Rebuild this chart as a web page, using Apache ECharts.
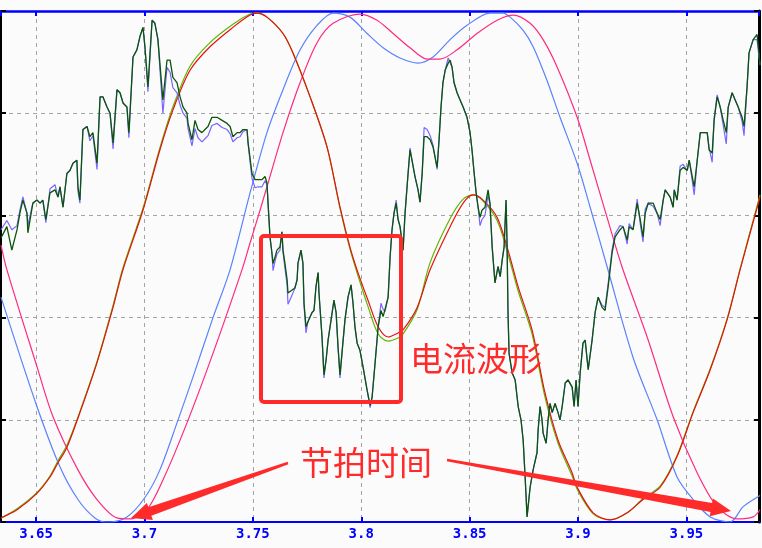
<!DOCTYPE html>
<html>
<head>
<meta charset="utf-8">
<script src="https://cdn.jsdelivr.net/npm/echarts@6/dist/echarts.min.js"></script>
<style>
html,body{margin:0;padding:0;background:#fbfbfb;}
#chart{width:762px;height:548px;}
</style>
</head>
<body>
<div id="chart"></div>
<script>
// ---- axis ----
const xMin = 3.6338, xMax = 3.9835;
const xTickLabels = ['3.65','3.7','3.75','3.8','3.85','3.9','3.95'];

// ---- noisy current pair (purple + dark green) ----
const noisyTime = [3.6338,3.6365,3.6388,3.6412,3.6425,3.6439,3.6458,3.6462,3.6485,3.6504,
3.6518,3.6531,3.6545,3.6564,3.6587,3.6601,3.6610,3.6624,3.6642,3.6656,
3.6670,3.6688,3.6693,3.6702,3.6716,3.6735,3.6748,3.6762,3.6781,3.6795,
3.6808,3.6827,3.6841,3.6855,3.6873,3.6887,3.6901,3.6919,3.6928,3.6947,
3.6965,3.6979,3.6993,3.7002,3.7016,3.7035,3.7048,3.7062,3.7085,3.7104,
3.7118,3.7131,3.7150,3.7164,3.7178,3.7196,3.7201,3.7219,3.7233,3.7247,
3.7265,3.7279,3.7293,3.7311,3.7335,3.7358,3.7381,3.7395,3.7408,3.7427,
3.7441,3.7454,3.7473,3.7478,3.7496,3.7510,3.7524,3.7542,3.7556,3.7565,
3.7570,3.7579,3.7588,3.7593,3.7602,3.7611,3.7625,3.7634,3.7639,3.7648,
3.7658,3.7662,3.7681,3.7694,3.7704,3.7708,3.7722,3.7731,3.7736,3.7745,
3.7754,3.7773,3.7782,3.7791,3.7801,3.7805,3.7819,3.7828,3.7838,3.7847,
3.7861,3.7874,3.7884,3.7893,3.7902,3.7911,3.7925,3.7939,3.7953,3.7962,
3.7971,3.7981,3.7994,3.8008,3.8027,3.8041,3.8050,3.8064,3.8078,3.8091,
3.8101,3.8110,3.8124,3.8133,3.8142,3.8151,3.8161,3.8170,3.8179,3.8193,
3.8202,3.8216,3.8225,3.8234,3.8248,3.8262,3.8271,3.8281,3.8290,3.8304,
3.8318,3.8331,3.8350,3.8359,3.8368,3.8377,3.8387,3.8401,3.8410,3.8419,
3.8428,3.8442,3.8456,3.8470,3.8488,3.8502,3.8511,3.8521,3.8530,3.8539,
3.8548,3.8557,3.8571,3.8585,3.8594,3.8604,3.8617,3.8631,3.8641,3.8650,
3.8659,3.8668,3.8673,3.8677,3.8682,3.8696,3.8710,3.8724,3.8737,3.8747,
3.8756,3.8765,3.8779,3.8793,3.8811,3.8816,3.8825,3.8834,3.8839,3.8853,
3.8862,3.8871,3.8881,3.8894,3.8908,3.8917,3.8927,3.8941,3.8954,3.8973,
3.8982,3.8991,3.9000,3.9010,3.9023,3.9033,3.9047,3.9065,3.9079,3.9093,
3.9111,3.9125,3.9139,3.9157,3.9171,3.9194,3.9208,3.9227,3.9236,3.9254,
3.9273,3.9287,3.9300,3.9310,3.9324,3.9347,3.9365,3.9379,3.9393,3.9402,
3.9425,3.9439,3.9444,3.9457,3.9471,3.9485,3.9504,3.9513,3.9527,3.9536,
3.9550,3.9564,3.9577,3.9596,3.9605,3.9619,3.9628,3.9642,3.9656,3.9670,
3.9684,3.9693,3.9711,3.9725,3.9739,3.9757,3.9766,3.9780,3.9789,3.9808,
3.9826,3.9835,3.9840];

const noisyGreen = [278,289,266,286,302,315,302,283,312,315,
312,315,296,322,325,318,328,308,341,344,
351,354,328,315,384,387,377,381,351,416,
416,406,400,371,423,420,410,406,381,455,
462,475,484,465,426,491,488,472,413,452,
452,435,430,416,406,400,390,374,393,384,
381,384,387,396,396,393,390,387,377,381,
381,384,384,371,341,335,335,335,338,332,
312,279,263,253,259,266,269,284,266,253,
237,224,227,229,237,253,266,253,214,191,
196,205,207,230,244,224,181,144,159,178,
198,217,205,171,144,165,198,220,232,214,
191,175,168,152,129,114,122,156,191,207,
201,201,220,259,286,302,312,296,289,266,
302,341,364,354,338,325,313,341,377,377,
374,367,347,374,406,430,442,449,452,445,
430,420,413,406,396,381,364,341,322,308,
298,305,308,325,312,269,234,250,240,256,
269,315,269,205,165,146,139,113,100,80,
44,5,34,51,68,90,113,100,87,77,
100,116,107,116,107,100,113,136,139,132,
113,139,113,146,175,178,149,178,205,220,
210,207,230,263,279,286,289,276,289,286,
312,296,279,302,312,312,302,296,315,325,
318,308,325,315,344,347,344,354,338,328,
354,381,381,381,364,361,393,416,406,393,
381,406,420,413,406,396,387,426,459,472,
477,459,447];

const noisyPurple = [286,295,286,290,305,318,302,290,312,315,
312,315,293,326,330,318,328,308,341,344,
351,354,324,312,384,387,373,378,345,416,
416,406,400,365,423,420,410,406,376,455,
462,475,484,465,421,491,488,472,400,445,
440,425,420,408,400,395,385,368,385,376,
372,375,378,388,390,386,384,380,372,376,
377,382,384,370,336,327,328,328,334,330,
312,279,263,246,255,262,266,284,264,248,
232,213,222,229,237,253,266,253,212,185,
196,205,207,230,244,224,181,141,159,178,
198,217,205,171,141,165,198,220,232,214,
191,175,168,152,129,112,122,156,191,214,
208,206,220,259,286,302,315,296,289,266,
302,341,366,354,338,325,313,341,386,384,
378,369,345,374,406,430,442,454,455,445,
430,420,413,406,396,381,364,341,322,308,
290,296,300,320,310,269,234,250,240,256,
269,315,269,205,165,146,139,113,100,80,
44,5,34,51,68,90,113,100,87,77,
100,116,107,116,107,100,113,136,139,132,
113,139,113,146,175,178,149,178,205,220,
212,210,233,266,282,290,289,272,292,286,
316,292,274,306,312,309,302,290,315,325,
318,308,325,315,348,350,344,354,334,320,
354,381,381,381,366,352,395,418,406,388,
370,406,420,413,406,392,378,426,459,472,
472,455,447];

// ---- beat-timing waves (blue + pink) ----
const blueTime = [3.6338,3.6499,3.6610,3.6693,3.6771,3.6827,3.6919,3.7002,3.7071,3.7150,
3.7224,3.7316,3.7395,3.7487,3.7565,3.7639,3.7718,3.7796,3.7870,3.7948,
3.8027,3.8101,3.8179,3.8262,3.8331,3.8410,3.8488,3.8594,3.8654,3.8687,
3.8747,3.8793,3.8857,3.8917,3.8996,3.9056,3.9134,3.9254,3.9365,3.9457,
3.9531,3.9610,3.9702,3.9762,3.9840];
const blueVals = [220,116,54,22,4,0,5,24,51,97,
142,200,247,322,381,423,462,486,498,494,
478,464,454,449,455,472,486,498,498,494,
481,465,432,396,351,308,250,161,100,44,
22,5,0,15,26];

const pinkTime = [3.6338,3.6365,3.6504,3.6578,3.6693,3.6781,3.6873,3.6933,3.7011,3.7085,
3.7196,3.7316,3.7450,3.7487,3.7533,3.7565,3.7639,3.7718,3.7796,3.7870,
3.7994,3.8073,3.8147,3.8225,3.8304,3.8364,3.8442,3.8534,3.8627,3.8701,
3.8779,3.8839,3.8904,3.8996,3.9056,3.9134,3.9204,3.9319,3.9439,3.9550,
3.9642,3.9734,3.9808,3.9840];
const pinkVals = [271,247,152,103,51,22,4,3,12,41,
97,165,247,273,305,328,381,430,469,488,
497,491,478,464,453,453,462,478,491,496,
488,472,445,396,354,298,249,181,103,48,
15,3,5,12];

// ---- smooth current pair (red + lime) ----
const smoothTime = [3.6338,3.6412,3.6504,3.6564,3.6601,3.6642,3.6702,3.6781,3.6855,3.6901,
3.6993,3.7071,3.7131,3.7210,3.7302,3.7408,3.7487,3.7519,3.7565,3.7639,
3.7685,3.7764,3.7842,3.7902,3.7948,3.7985,3.8031,3.8078,3.8124,3.8170,
3.8193,3.8258,3.8318,3.8410,3.8470,3.8516,3.8562,3.8627,3.8677,3.8724,
3.8788,3.8848,3.8908,3.8973,3.8996,3.9070,3.9148,3.9227,3.9300,3.9379,
3.9457,3.9531,3.9610,3.9688,3.9748,3.9840];
const redVals = [4,12,28,44,58,73,107,156,210,247,
305,364,403,442,465,484,496,498,494,478,
459,416,367,308,269,244,217,191,181,185,
188,210,247,289,312,320,315,298,266,230,
188,126,80,48,34,9,2,9,22,34,
64,107,149,198,247,318];
const limeVals = [4,13,29,45,60,75,108,157,212,249,
307,366,406,446,469,487,497,498,494,478,
459,416,367,307,267,241,211,184,177,180,
184,208,254,297,316,320,314,295,262,226,
184,122,77,45,32,8,2,9,23,35,
65,108,150,199,248,320];

// ---- annotation texts ----
const labelWave = '电流波形';
const labelBeat = '节拍时间';

const pairs = (xs, ys) => xs.map((x, i) => [x, ys[i]]);

function arrowPoints(tail, tip, tailHalf, baseHalf, headHalf, headLen) {
  const dx = tip[0] - tail[0], dy = tip[1] - tail[1];
  const L = Math.hypot(dx, dy);
  const ux = dx / L, uy = dy / L;
  const nx = -uy, ny = ux;
  const bx = tip[0] - ux * headLen, by = tip[1] - uy * headLen;
  return [
    [tail[0] + nx * tailHalf, tail[1] + ny * tailHalf],
    [bx + nx * baseHalf, by + ny * baseHalf],
    [bx + nx * headHalf, by + ny * headHalf],
    [tip[0], tip[1]],
    [bx - nx * headHalf, by - ny * headHalf],
    [bx - nx * baseHalf, by - ny * baseHalf],
    [tail[0] - nx * tailHalf, tail[1] - ny * tailHalf]
  ];
}

const RED = '#ff2a2a';
const chart = echarts.init(document.getElementById('chart'), null, {renderer: 'canvas'});

const lineBase = {type: 'line', showSymbol: false, symbol: 'none', animation: false, silent: true};

const option = {
  animation: false,
  backgroundColor: '#fbfbfb',
  grid: {left: 1, right: 3, top: 11, bottom: 26, containLabel: false, outerBoundsMode: 'none'},
  xAxis: [
    {
      type: 'value', position: 'bottom', min: xMin, max: xMax, splitNumber: 7,
      axisLine: {show: true, onZero: false, lineStyle: {color: '#0000ff', width: 2}},
      axisTick: {show: true, inside: true, length: 5, lineStyle: {color: '#0000ff', width: 2}},
      axisLabel: {
        show: true, color: '#0000ff', fontFamily: 'DejaVu Sans Mono', fontWeight: 'bold',
        fontSize: 14, margin: 5, showMinLabel: false, showMaxLabel: false,
        formatter: v => {
          const s = String(Math.round(v * 100) / 100);
          return xTickLabels.includes(s) ? s : '';
        }
      },
      splitLine: {show: true, lineStyle: {color: '#a4a4a4', width: 1, type: [4, 4]}}
    },
    {
      type: 'value', position: 'top', min: xMin, max: xMax, splitNumber: 7,
      axisLine: {show: true, onZero: false, lineStyle: {color: '#0000ff', width: 2.5}},
      axisTick: {show: true, inside: true, length: 5, lineStyle: {color: '#0000ff', width: 2}},
      axisLabel: {show: false},
      splitLine: {show: false}
    }
  ],
  yAxis: [
    {
      type: 'value', position: 'left', min: 0, max: 500, interval: 100,
      axisLine: {show: true, onZero: false, lineStyle: {color: '#000000', width: 2}},
      axisTick: {show: true, inside: true, length: 5, lineStyle: {color: '#000000', width: 2}},
      axisLabel: {show: false},
      splitLine: {show: true, lineStyle: {color: '#a4a4a4', width: 1, type: [4, 4]}}
    },
    {
      type: 'value', position: 'right', min: 0, max: 500, interval: 100,
      axisLine: {show: true, onZero: false, lineStyle: {color: '#000000', width: 3}},
      axisTick: {show: true, inside: true, length: 5, lineStyle: {color: '#000000', width: 2}},
      axisLabel: {show: false},
      splitLine: {show: false}
    }
  ],
  series: [
    Object.assign({}, lineBase, {name: 'beatA', data: pairs(blueTime, blueVals), smooth: 0.3,
      lineStyle: {color: '#5a82ff', width: 1.2}, z: 2}),
    Object.assign({}, lineBase, {name: 'beatB', data: pairs(pinkTime, pinkVals), smooth: 0.3,
      lineStyle: {color: '#ff2a7f', width: 1.2}, z: 2}),
    Object.assign({}, lineBase, {name: 'fitLime', data: pairs(smoothTime, limeVals), smooth: 0.3,
      lineStyle: {color: '#5cb800', width: 1.2}, z: 3}),
    Object.assign({}, lineBase, {name: 'fitRed', data: pairs(smoothTime, redVals), smooth: 0.3,
      lineStyle: {color: '#e81010', width: 1.2}, z: 3}),
    Object.assign({}, lineBase, {name: 'curPurple', data: pairs(noisyTime, noisyPurple),
      lineStyle: {color: '#7a66ff', width: 1.2}, z: 4}),
    Object.assign({}, lineBase, {name: 'curGreen', data: pairs(noisyTime, noisyGreen),
      lineStyle: {color: '#0a550a', width: 1.3}, z: 5})
  ],
  graphic: [
    {type: 'rect', z: 100, shape: {x: 261, y: 236, width: 140, height: 166, r: 3},
      style: {fill: 'none', stroke: RED, lineWidth: 4}},
    {type: 'text', z: 100, x: 410, y: 358,
      style: {text: labelWave, fill: RED, font: '33px "Noto Sans CJK SC"', textVerticalAlign: 'middle', verticalAlign: 'middle'}},
    {type: 'text', z: 100, x: 300, y: 462,
      style: {text: labelBeat, fill: RED, font: '33px "Noto Sans CJK SC"', textVerticalAlign: 'middle', verticalAlign: 'middle'}},
    {type: 'polygon', z: 100, shape: {points: arrowPoints([288, 463], [131, 518], 1.2, 4.5, 9, 20)},
      style: {fill: RED}},
    {type: 'polygon', z: 100, shape: {points: arrowPoints([447, 460], [731, 511], 1.2, 4.5, 9, 20)},
      style: {fill: RED}}
  ]
};
chart.setOption(option);
</script>
</body>
</html>
